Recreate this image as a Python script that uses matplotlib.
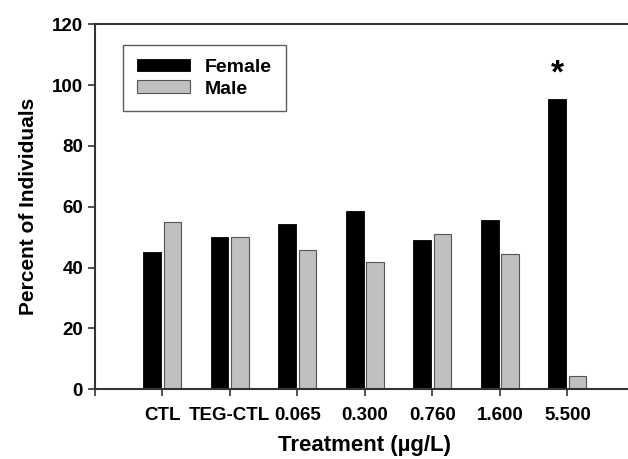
import matplotlib.pyplot as plt
import numpy as np

plt.rcParams['font.family'] = ['Liberation Sans', 'DejaVu Sans']
plt.rcParams['font.weight'] = 'bold'

# values
treatments = ['CTL', 'TEG-CTL', '0.065', '0.300', '0.760', '1.600', '5.500']
female = [45.2, 50.1, 54.3, 58.6, 49.0, 55.6, 95.6]
male = [55.0, 50.0, 45.7, 41.7, 51.0, 44.4, 4.4]
signif = [False, False, False, False, False, False, True]

x = np.arange(1, len(treatments) + 1)
w = 0.26

fig = plt.figure(figsize=(6.28, 4.59), dpi=100)
ax = fig.add_axes([0.151, 0.152, 0.86, 0.795])

ax.bar(x - 0.15, female, w, color='black', edgecolor='black', linewidth=0.6, label='Female')
ax.bar(x + 0.15, male, w, color='#c0c0c0', edgecolor='#555555', linewidth=0.8, label='Male')

for xi, f, s in zip(x, female, signif):
    if s:
        ax.text(xi - 0.15, f + 3, '*', ha='center', va='bottom', fontsize=24, fontweight='bold')

ax.set_xlim(0, 8)
ax.set_ylim(0, 120)
ax.set_xticks(np.arange(0, 8))
ax.set_xticklabels([''] + treatments, fontsize=13.5)
ax.set_yticks(np.arange(0, 121, 20))
ax.tick_params(axis='y', labelsize=13.5, direction='out', length=5, width=1.2, colors='#333333', labelcolor='black')
ax.tick_params(axis='x', direction='out', length=5, width=1.2, colors='#333333', labelcolor='black', pad=8)

for side in ['left', 'bottom', 'top']:
    ax.spines[side].set_linewidth(1.5)
    ax.spines[side].set_color('#333333')
ax.spines['right'].set_visible(False)

ax.set_ylabel('Percent of Individuals', fontsize=15, fontweight='bold', labelpad=10)
ax.set_xlabel('Treatment (\u00b5g/L)', fontsize=16, fontweight='bold', labelpad=8)

leg = ax.legend(loc='upper left', bbox_to_anchor=(0.035, 0.97), fontsize=14, fancybox=False,
                edgecolor='#333333', handlelength=2.7, handleheight=0.6, borderpad=0.7,
                labelspacing=0.25, handletextpad=0.8)
leg.get_frame().set_linewidth(1.0)

fig.savefig('out.png', dpi=100)
